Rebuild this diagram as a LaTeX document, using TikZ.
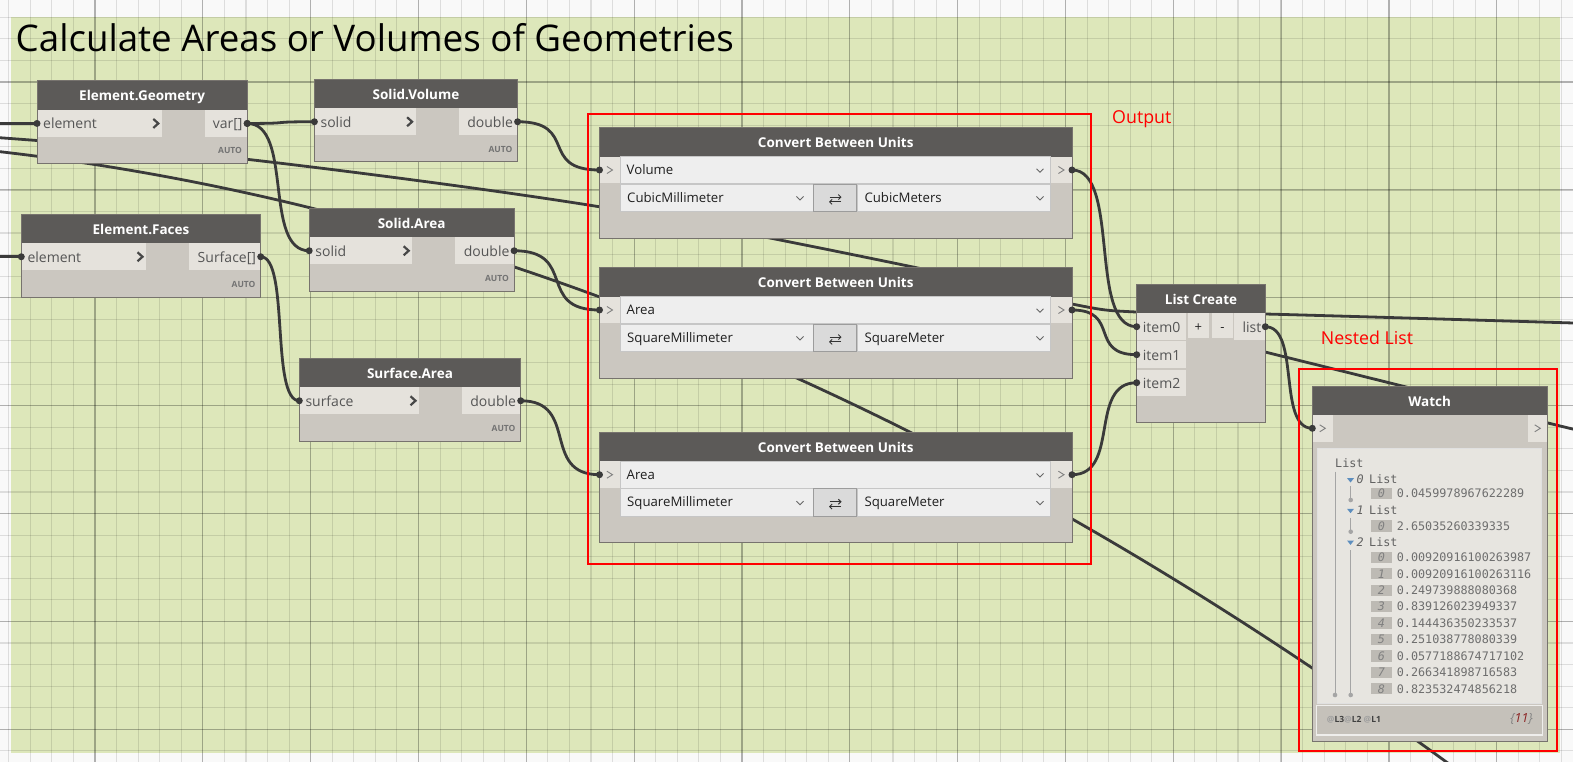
\documentclass[tikz,border=0pt]{standalone}
\usepackage{fontspec}
\setmainfont{Open Sans}
\newfontfamily\monof{DejaVu Sans Mono}
\usetikzlibrary{calc,arrows.meta}
\pgfdeclarelayer{bg}
\pgfdeclarelayer{wl}
\pgfsetlayers{bg,wl,main}
\definecolor{grn}{HTML}{DDE7BA}
\definecolor{pagebg}{HTML}{F9F9F9}
\definecolor{hdrc}{HTML}{5C5A58}
\definecolor{bodyc}{HTML}{CBC7C0}
\definecolor{portc}{HTML}{E5E2DC}
\definecolor{borderc}{HTML}{77736E}
\definecolor{wirec}{HTML}{3A3A3A}
\definecolor{ptxt}{HTML}{555555}
\definecolor{ddc}{HTML}{EEEEEE}
\definecolor{ddb}{HTML}{C6C6C6}
\definecolor{btnc}{HTML}{DADADA}
\definecolor{btnb}{HTML}{9C9C9C}
\definecolor{panelc}{HTML}{E7E5E0}
\definecolor{idxc}{HTML}{BDBAB4}
\definecolor{valc}{HTML}{6E6E6E}
\definecolor{treec}{HTML}{A5A5A5}
\definecolor{tric}{HTML}{5D8EBE}
\definecolor{redc}{HTML}{FF0000}
\definecolor{cntc}{HTML}{8B2020}
\tikzset{
  wire/.style={draw=wirec,line width=2.8pt},
  gridmin/.style={draw=black,opacity=0.11,line width=1.1pt},
  gridmaj/.style={draw=black,opacity=0.2,line width=1.3pt},
  hdrtext/.style={inner sep=0pt,text=white,font=\fontsize{13.5}{15}\selectfont\bfseries,text height=11pt,text depth=0pt},
  porttext/.style={inner sep=0pt,text=ptxt,font=\fontsize{14}{16}\selectfont,text height=11pt,text depth=0pt},
  ddtext/.style={inner sep=0pt,text=black!88,font=\fontsize{13.2}{15}\selectfont,text height=9pt,text depth=0pt},
  autotext/.style={inner sep=0pt,text=black!55,font=\fontsize{8.5}{10}\selectfont\bfseries,text height=6pt,text depth=0pt},
  bchev/.style={draw=black!72,line width=2.2pt},
  tchev/.style={draw=black!50,line width=0.9pt},
  vchev/.style={draw=black!60,line width=0.9pt},
  ddbox/.style={fill=ddc,draw=ddb,line width=0.8pt},
  btnbox/.style={fill=btnc,draw=btnb,line width=0.9pt},
  nodeborder/.style={draw=borderc,line width=1pt},
  monotext/.style={inner sep=0pt,text=valc,font=\monof\fontsize{11.75}{13}\selectfont,text height=8.6pt,text depth=0pt},
  idxtext/.style={inner sep=0pt,text=black!50,font=\monof\itshape\fontsize{11.75}{13}\selectfont,text height=8.6pt,text depth=0pt},
  redtext/.style={inner sep=0pt,text=redc,font=\fontsize{17.8}{20}\selectfont,text height=12.8pt,text depth=0pt},
  redbox/.style={draw=redc,line width=2pt},
  swaparrow/.style={draw=black!80,line width=0.9pt,-{Straight Barb[length=2.5pt,width=5pt]}}
}
\newcommand\vch[2]{\draw[vchev] ({#1-3.5},{#2-1.2}) -- (#1,{#2+2.3}) -- ({#1+3.5},{#2-1.2});}
\newcommand\tch[2]{\draw[tchev] ({#1-2.8},{#2-3.5}) -- ({#1+2.8},#2) -- ({#1-2.8},{#2+3.5});}
\newcommand\stdnode[9]{%
  \pgfmathsetmacro\nyA{#3}%
  \pgfmathsetmacro\nyB{#3+28.8}%
  \pgfmathsetmacro\nyC{#3+56.1}%
  \pgfmathsetmacro\nyD{#3+82.7}%
  \pgfmathsetmacro\nyM{#3+42.45}%
  \pgfmathsetmacro\nxM{(#2+#4)/2}%
  \pgfmathsetmacro\nxC{#7-6}%
  \fill[bodyc] (#2,\nyA) rectangle (#4,\nyD);
  \fill[hdrc] (#2,\nyA) rectangle (#4,\nyB);
  \fill[portc] (#2,\nyB) rectangle (#7,\nyC);
  \fill[portc] (#9,\nyB) rectangle (#4,\nyC);
  \draw[nodeborder] (#2,\nyA) rectangle (#4,\nyD);
  \node[hdrtext] (#1-t) at (\nxM,{#3+14.4}) {#5};
  \node[porttext,anchor=west] (#1-il) at ({#2+6},\nyM) {#6};
  \node[porttext,anchor=east] (#1-ol) at ({#4-4.5},\nyM) {#8};
  \draw[bchev] ({\nxC-2.5},{\nyM-4.5}) -- ({\nxC+2.5},\nyM) -- ({\nxC-2.5},{\nyM+4.5});
  \node[autotext,anchor=east] (#1-a) at ({#4-5},{#3+70}) {AUTO};
  \coordinate (#1-in) at (#2,\nyM);
  \coordinate (#1-out) at (#4,\nyM);
}
\newcommand\cbu[5]{%
  \pgfmathsetmacro\nyA{#2}%
  \pgfmathsetmacro\nyH{#2+29.4}%
  \pgfmathsetmacro\nyR{#2+56}%
  \pgfmathsetmacro\nyS{#2+56.7}%
  \pgfmathsetmacro\nyT{#2+84}%
  \pgfmathsetmacro\nyE{#2+110.7}%
  \pgfmathsetmacro\nrA{#2+42.7}%
  \pgfmathsetmacro\nrB{#2+70.35}%
  \pgfmathsetmacro\nrU{#2+70.35-0.6}%
  \pgfmathsetmacro\nrL{#2+70.35+4.2}%
  \fill[bodyc] (599.5,\nyA) rectangle (1072,\nyE);
  \fill[hdrc] (599.5,\nyA) rectangle (1072,\nyH);
  \fill[portc] (599.5,\nyH) rectangle (620,\nyR);
  \fill[portc] (1050.3,\nyH) rectangle (1072,\nyR);
  \draw[ddbox] (620,\nyH) rectangle (1050.3,\nyR);
  \draw[ddbox] (620,\nyS) rectangle (813.3,\nyT);
  \draw[btnbox] (813.3,\nyS) rectangle (856.7,\nyT);
  \draw[ddbox] (857.7,\nyS) rectangle (1050.3,\nyT);
  \draw[nodeborder] (599.5,\nyA) rectangle (1072,\nyE);
  \node[hdrtext] (#1-t) at (835.75,{#2+14.7}) {Convert Between Units};
  \node[ddtext,anchor=west] (#1-type) at (626.5,\nrA) {#3};
  \node[ddtext,anchor=west] (#1-from) at (627,\nrB) {#4};
  \node[ddtext,anchor=west] (#1-to) at (864.3,\nrB) {#5};
  \vch{1040}{\nrA}\vch{800}{\nrB}\vch{1040}{\nrB}
  \tch{609.7}{\nrA}\tch{1061.2}{\nrA}
  \draw[swaparrow] (829.5,\nrU) -- (841.5,\nrU);
  \draw[swaparrow] (841,\nrL) -- (829,\nrL);
  \coordinate (#1-in) at (599.5,\nrA);
  \coordinate (#1-out) at (1072,\nrA);
}
\newcommand\wire[2]{%
  \begin{pgfonlayer}{wl}
  \draw[wire] let \p1=(#1), \p2=(#2), \n1={0.75*(\x2-\x1)} in (\p1) .. controls +(\n1,0) and +(-\n1,0) .. (\p2);
  \end{pgfonlayer}
  \fill[wirec] (#1) circle (3.5pt);
  \fill[wirec] (#2) circle (3.5pt);
}
\begin{document}
\begin{tikzpicture}[x=1pt,y=-1pt]
\useasboundingbox (0,0) rectangle (1573,762);
\begin{pgfonlayer}{bg}
  \fill[pagebg] (0,0) rectangle (1573,762);
  \fill[grn] (11,16.7) rectangle (1560,753);
  \foreach \k in {-4,...,68}{\draw[gridmin] ({95+21.566*\k},0) -- ({95+21.566*\k},762);}
  \foreach \k in {0,...,13}{\draw[gridmaj] ({95+107.83*\k},0) -- ({95+107.83*\k},762);}
  \foreach \k in {-3,...,31}{\draw[gridmin] (0,{82+21.577*\k}) -- (1573,{82+21.577*\k});}
  \foreach \k in {0,...,6}{\draw[gridmaj] (0,{82+107.885*\k}) -- (1573,{82+107.885*\k});}
\end{pgfonlayer}

\node[anchor=base west,inner sep=0pt,font=\fontsize{36.7}{40}\selectfont] (title) at (15.5,52) {Calculate Areas or Volumes of Geometries};

% standard nodes
\stdnode{eg}{37}{81}{247.2}{Element.Geometry}{element}{161.8}{var[]}{204.9}
\stdnode{sv}{314.4}{79.3}{517.6}{Solid.Volume}{solid}{415.6}{double}{459}
\stdnode{ef}{21.3}{214.3}{260.7}{Element.Faces}{element}{146}{Surface[]}{189}
\stdnode{sa}{309.2}{208.3}{514.1}{Solid.Area}{solid}{412.2}{double}{454.5}
\stdnode{sfa}{299.3}{358.3}{520.7}{Surface.Area}{surface}{419}{double}{462}

% convert between units
\cbu{cbA}{127.3}{Volume}{CubicMillimeter}{CubicMeters}
\cbu{cbB}{267.3}{Area}{SquareMillimeter}{SquareMeter}
\cbu{cbC}{432}{Area}{SquareMillimeter}{SquareMeter}

% List Create
\fill[bodyc] (1136.7,284) rectangle (1265.3,422.3);
\fill[hdrc] (1136.7,284) rectangle (1265.3,313.3);
\fill[portc] (1136.7,313.3) rectangle (1186,340);
\fill[portc] (1136.7,341) rectangle (1186,368.3);
\fill[portc] (1136.7,369.7) rectangle (1186,395.7);
\fill[portc] (1187.7,313.3) rectangle (1209,337.7);
\fill[portc] (1212,313.3) rectangle (1233,337.7);
\fill[portc] (1234,313.3) rectangle (1265.3,340);
\draw[nodeborder] (1136.7,284) rectangle (1265.3,422.3);
\node[hdrtext] (lc-t) at (1201,298.7) {List Create};
\node[porttext,anchor=west] (lc-l0) at (1142.7,326.7) {item0};
\node[porttext,anchor=west] (lc-l1) at (1142.7,354.7) {item1};
\node[porttext,anchor=west] (lc-l2) at (1142.7,382.7) {item2};
\node[porttext,anchor=east] (lc-lo) at (1261.5,326.7) {list};
\node[porttext,text=black!85,font=\fontsize{13}{15}\selectfont] (lc-plus) at (1198.3,325.5) {+};
\node[porttext,text=black!85,font=\fontsize{13}{15}\selectfont] (lc-minus) at (1222.5,325.5) {-};
\coordinate (lc-i0) at (1136.7,326.7);
\coordinate (lc-i1) at (1136.7,354.7);
\coordinate (lc-i2) at (1136.7,382.7);
\coordinate (lc-out) at (1265.3,326.7);

% Watch
\fill[bodyc] (1312.3,386.3) rectangle (1547,741);
\fill[hdrc] (1312.3,386.3) rectangle (1547,415);
\fill[portc] (1312.3,415) rectangle (1332.7,441.7);
\fill[portc] (1528,415) rectangle (1547,441.7);
\draw[fill=panelc,draw=black!12,line width=0.8pt] (1317.7,448.3) rectangle (1541.7,703.3);
\draw[fill=bodyc!97!black,draw=white!70!bodyc,line width=1.2pt] (1316.7,705.7) rectangle (1542.7,735);
\draw[nodeborder] (1312.3,386.3) rectangle (1547,741);
\node[hdrtext] (w-t) at (1429.6,400.6) {Watch};
\tch{1322.5}{428.3}\tch{1537.5}{428.3}
\coordinate (w-in) at (1312.3,428.3);

% watch tree
\node[monotext,anchor=west,text=black!62] (t-root) at (1335,463.3) {List};
\draw[treec,line width=1pt] (1335,471.7) -- (1335,695);
\fill[treec] (1335,695) circle (2.3pt);
\foreach \ry/\lab [count=\c from 0] in {479.3/0,510/1,541.7/2}{
  \fill[tric] (1347,{\ry-1.2}) -- (1354,{\ry-1.2}) -- (1350.5,{\ry+3.2}) -- cycle;
  \node[idxtext,anchor=west,text=black!62] (t-n\c) at (1356.5,\ry) {\lab};
  \node[monotext,anchor=west,text=black!62] (t-l\c) at (1369,\ry) {List};
}
\draw[treec,line width=1pt] (1350.7,486) -- (1350.7,500);
\fill[treec] (1350.7,500) circle (2.3pt);
\draw[treec,line width=1pt] (1350.7,518) -- (1350.7,531.7);
\fill[treec] (1350.7,531.7) circle (2.3pt);
\draw[treec,line width=1pt] (1350.7,550) -- (1350.7,695);
\fill[treec] (1350.7,695) circle (2.3pt);
\foreach \ry/\i/\v [count=\c] in {493.6/0/0.0459978967622289,526/0/2.65035260339335,557.3/0/0.00920916100263987,573.7/1/0.00920916100263116,590.1/2/0.249739888080368,606.6/3/0.839126023949337,623/4/0.144436350233537,639.4/5/0.251038778080339,655.9/6/0.0577188674717102,672.3/7/0.266341898716583,688.7/8/0.823532474856218}{
  \fill[idxc] (1371,{\ry-5.6}) rectangle (1391.7,{\ry+5.6});
  \node[idxtext] (t-i\c) at (1381.3,\ry) {\i};
  \node[monotext,anchor=west] (t-v\c) at (1396.7,\ry) {\v};
}
\node[inner sep=0pt,anchor=west,font=\fontsize{8.5}{10}\selectfont\bfseries,text=black!75] (w-lev) at (1326.7,720) {{\color{black!38}@}L3{\color{black!38}@}L2 {\color{black!38}@}L1};
\node[inner sep=0pt,anchor=east,font=\fontsize{12.5}{14}\selectfont\itshape,text=black!50] (w-cnt) at (1533,719.5) {\{{\color{cntc}11}\}};

% wires
\coordinate (w1s) at (-5,123.45);
\coordinate (w6s) at (-5,256.75);
\begin{pgfonlayer}{wl}
  \draw[wire] (w1s) -- (eg-in);
  \draw[wire] (w6s) -- (ef-in);
  % quadratic curve written as a cubic
  \coordinate (w3a) at (0,151.7);
  \coordinate (w3p) at (500,209.2);
  \coordinate (w3q) at (1000,425.9);
  \coordinate (w3b) at (1500,801.7);
  \coordinate (w3s) at (-5,151.1);
  \draw[wire] (w3s) -- (w3a) .. controls (w3p) and (w3q) .. (w3b);
  \coordinate (w2a) at (-5,137.4);
  \coordinate (w2b) at (247,159.3);
  \coordinate (w2c) at (599,206.7);
  \coordinate (w2d) at (913,267);
  \coordinate (w2e) at (1072,304);
  \coordinate (w2f) at (1136,312);
  \coordinate (w2g) at (1265,314);
  \coordinate (w2h) at (1590,323.5);
  \draw[wire] plot[smooth,tension=0.55] coordinates {(w2a) (w2b) (w2c) (w2d) (w2e) (w2f) (w2g) (w2h)};
  \coordinate (w4a) at (1200,336);
  \coordinate (w4b) at (1265,352);
  \coordinate (w4c) at (1402,386);
  \coordinate (w4d) at (1548,423);
  \coordinate (w4e) at (1590,433);
  \draw[wire] plot[smooth,tension=0.5] coordinates {(w4a) (w4b) (w4c) (w4d) (w4e)};
\end{pgfonlayer}
\fill[wirec] (eg-in) circle (3.5pt);
\fill[wirec] (ef-in) circle (3.5pt);
\wire{eg-out}{sv-in}
\wire{eg-out}{sa-in}
\wire{sv-out}{cbA-in}
\wire{sa-out}{cbB-in}
\wire{ef-out}{sfa-in}
\wire{sfa-out}{cbC-in}
\wire{cbA-out}{lc-i0}
\wire{cbB-out}{lc-i1}
\wire{cbC-out}{lc-i2}
\wire{lc-out}{w-in}

% red groups
\draw[redbox] (588.3,114) rectangle (1091,564);
\draw[redbox] (1299,369) rectangle (1557.3,750.7);
\node[redtext,anchor=west] (outlab) at (1112,117) {Output};
\node[redtext,anchor=west] (nestlab) at (1320.7,337.7) {Nested List};
\end{tikzpicture}
\end{document}
